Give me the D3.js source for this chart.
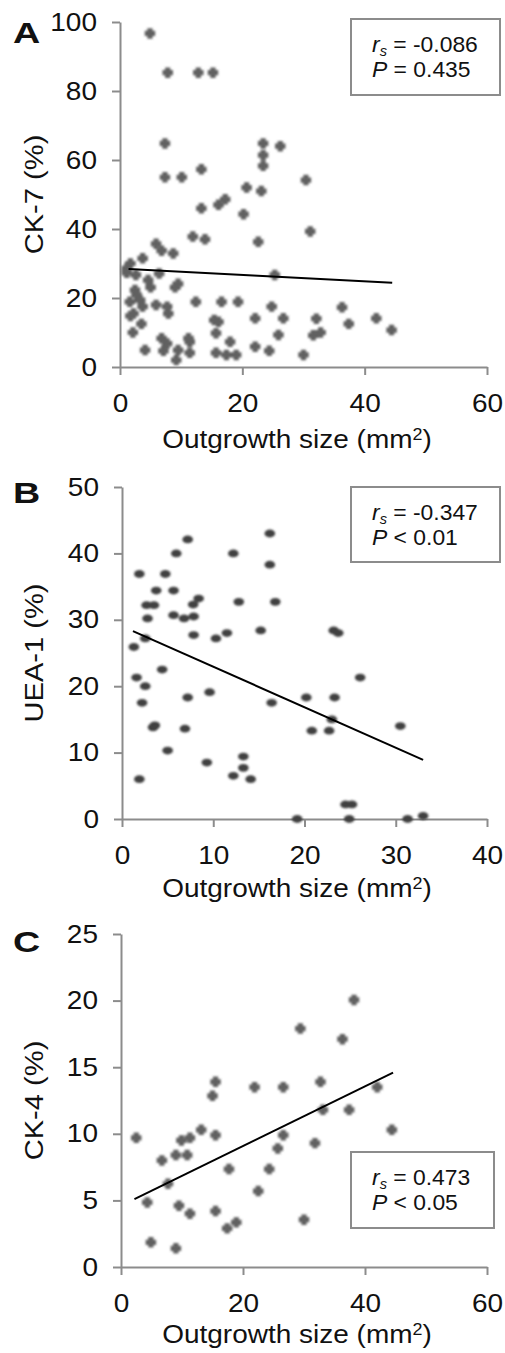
<!DOCTYPE html>
<html>
<head>
<meta charset="utf-8">
<script src="https://cdn.jsdelivr.net/npm/d3@7/dist/d3.min.js"></script>
<style>
  html, body { margin: 0; padding: 0; background: #fff; }
  svg text { font-family: "Liberation Sans", Arial, Helvetica, sans-serif; fill: #111; }
</style>
</head>
<body>
<svg id="chart" width="505" height="1353"></svg>
<script>
// ---------- Panel A: CK-7 ----------
const ck7X = [4.9,7.8,12.8,15.2,7.35,23.4,26.2,23.4,23.4,7.35,10.1,13.3,30.4,20.7,23.1,17.2,16.1,13.3,20.2,11.9,13.9,22.6,31.1,5.9,6.8,8.7,3.7,1.7,1.1,1.1,2.6,6.4,4.6,5.0,9.5,9.0,25.3,2.45,2.7,1.6,3.3,3.7,5.9,7.7,7.9,2.2,1.7,12.4,16.6,19.3,24.8,15.4,16.1,22.1,26.7,3.5,15.7,25.9,2.1,6.8,7.7,11.2,11.4,18.0,4.1,7.1,9.5,11.4,15.7,17.4,19.0,22.1,24.4,30.0,9.2,36.3,37.4,41.9,44.4,32.1,31.6,32.8];
const ck7Y = [96.7,85.3,85.3,85.3,64.8,64.8,64.0,61.4,58.3,55.0,55.0,57.3,54.2,52.0,51.0,48.6,47.0,46.0,44.3,37.8,37.0,36.3,39.3,35.7,33.7,32.9,31.5,30.0,28.6,27.3,26.7,27.1,25.2,23.1,24.1,23.1,26.7,22.3,20.9,18.9,19.4,17.5,18.0,17.5,15.5,15.5,14.8,18.9,18.9,18.9,17.5,13.6,13.1,14.1,14.1,12.5,9.8,9.3,10.0,8.3,6.8,8.3,7.3,7.3,4.9,4.7,4.9,4.1,4.1,3.5,3.5,5.9,4.7,3.5,2.0,17.3,12.5,14.1,10.7,14.0,9.2,10.0];
const ck7FitX = [1.4, 44.5];
const ck7FitY = [28.4, 24.4];
const ck7XTicks = [0, 20, 40, 60];
const ck7YTicks = [0, 20, 40, 60, 80, 100];

// ---------- Panel B: UEA-1 ----------
const ueaX = [7.2,16.2,5.95,12.2,16.2,1.9,4.75,3.75,5.65,2.7,3.5,8.4,7.8,12.8,16.8,2.8,5.65,6.8,7.85,7.85,10.3,11.5,15.2,2.55,1.3,23.2,23.7,26.1,20.2,23.3,23.0,20.8,22.7,30.5,24.5,25.2,19.2,24.9,31.3,33.0,4.4,1.6,2.55,2.2,7.2,9.6,16.4,3.4,3.6,6.9,5.0,9.3,13.3,13.3,12.2,14.1,1.9];
const ueaY = [42.1,43.0,40.0,40.0,38.3,36.9,36.9,34.4,34.4,32.2,32.2,33.2,32.3,32.7,32.7,30.2,30.7,30.2,30.5,27.7,27.2,28.0,28.4,27.2,25.9,28.4,28.0,21.3,18.3,18.3,15.0,13.3,13.3,14.0,2.2,2.2,0.0,0.0,0.0,0.45,22.5,21.3,20.0,17.5,18.3,19.1,17.5,13.8,14.1,13.6,10.3,8.5,9.4,7.7,6.5,6.0,6.0];
const ueaFitX = [1.2, 33.0];
const ueaFitY = [28.3, 8.9];
const ueaXTicks = [0, 10, 20, 30, 40];
const ueaYTicks = [0, 10, 20, 30, 40, 50];

// ---------- Panel C: CK-4 ----------
const ck4X = [38.2,29.4,36.3,15.5,15.0,21.9,26.6,32.7,42.0,33.1,37.4,44.4,13.15,2.5,9.9,11.3,15.5,26.6,31.8,25.7,6.7,9.0,10.85,17.7,24.3,7.7,22.5,4.3,9.5,11.3,15.5,18.9,17.4,30.0,4.9,9.0];
const ck4Y = [20.05,17.9,17.1,13.9,12.85,13.5,13.5,13.9,13.5,11.8,11.8,10.3,10.3,9.7,9.5,9.7,9.9,9.9,9.3,8.9,8.0,8.4,8.4,7.35,7.35,6.25,5.7,4.85,4.6,4.0,4.2,3.35,2.9,3.55,1.85,1.4];
const ck4FitX = [2.2, 44.6];
const ck4FitY = [5.1, 14.6];
const ck4XTicks = [0, 20, 40, 60];
const ck4YTicks = [0, 5, 10, 15, 20, 25];

const svg = d3.select("#chart");
const defs = svg.append("defs");
defs.append("filter").attr("id", "soft").attr("x", "-50%").attr("y", "-50%").attr("width", "200%").attr("height", "200%")
  .append("feGaussianBlur").attr("stdDeviation", 0.8);

const axisColor = "#8c8c8c";
const SX = 1.12; // horizontal stretch of the lettering

// chunky plus-shaped marker
const chunkyCross = {
  draw(ctx, size) {
    const w = Math.sqrt(size) / 2, t = w * 0.5;
    ctx.moveTo(-t, -w); ctx.lineTo(t, -w); ctx.lineTo(t, -t); ctx.lineTo(w, -t);
    ctx.lineTo(w, t); ctx.lineTo(t, t); ctx.lineTo(t, w); ctx.lineTo(-t, w);
    ctx.lineTo(-t, t); ctx.lineTo(-w, t); ctx.lineTo(-w, -t); ctx.lineTo(-t, -t);
    ctx.closePath();
  }
};

function stretchedText(parent, x, y, size, anchor) {
  return parent.append("text")
    .attr("transform", `translate(${x},${y}) scale(${SX},1)`)
    .attr("text-anchor", anchor || "start").style("font-size", size + "px");
}

function panel(cfg) {
  const g = svg.append("g");
  const x = d3.scaleLinear().domain(cfg.xDomain).range([cfg.left, cfg.right]);
  const y = d3.scaleLinear().domain(cfg.yDomain).range([cfg.bottom, cfg.top]);

  // axes
  const xa = g.append("g").attr("transform", `translate(0,${cfg.bottom})`)
    .call(d3.axisBottom(x).tickValues(cfg.xTicks).tickSize(8).tickPadding(19).tickSizeOuter(0));
  const ya = g.append("g").attr("transform", `translate(${cfg.left},0)`)
    .call(d3.axisLeft(y).tickValues(cfg.yTicks).tickSize(8).tickPadding(15).tickSizeOuter(0));
  [xa, ya].forEach(a => {
    a.select(".domain").attr("stroke", axisColor).attr("stroke-width", 2);
    a.selectAll(".tick line").attr("stroke", axisColor).attr("stroke-width", 2);
    a.selectAll(".tick text").style("font-size", "25px").attr("fill", "#111")
      .style("font-family", '"Liberation Sans", Arial, sans-serif')
      .attr("transform", `scale(${SX},1)`);
  });
  ya.selectAll(".tick text").attr("x", -23 / SX);

  // points
  const pts = d3.range(cfg.xs.length).map(i => [cfg.xs[i], cfg.ys[i]]);
  if (cfg.shape === "ellipse") {
    g.append("g").attr("filter", "url(#soft)").selectAll("ellipse").data(pts).join("ellipse")
      .attr("cx", d => x(d[0])).attr("cy", d => y(d[1]))
      .attr("rx", 5.3).attr("ry", 3.9).attr("fill", "#3f3f3f");
  } else {
    const sym = d3.symbol().type(chunkyCross).size(110);
    g.append("g").attr("filter", "url(#soft)").selectAll("path").data(pts).join("path")
      .attr("transform", d => `translate(${x(d[0])},${y(d[1])})`)
      .attr("d", sym).attr("fill", "#606060");
  }

  // trend line
  const fit = cfg.fitX.map((v, i) => [v, cfg.fitY[i]]);
  g.append("path").datum(fit)
    .attr("d", d3.line().x(d => x(d[0])).y(d => y(d[1])))
    .attr("stroke", "#000").attr("stroke-width", 2).attr("fill", "none");

  // panel letter
  g.append("text").attr("transform", `translate(13,${cfg.letterY}) scale(1.3,1)`).text(cfg.letter)
    .style("font-size", "29px").style("font-weight", "bold");

  // y title
  g.append("text")
    .attr("transform", `translate(43,${(cfg.top + cfg.bottom) / 2}) rotate(-90) scale(1.12,1)`)
    .attr("text-anchor", "middle").style("font-size", "26px").text(cfg.yTitle);

  // x title
  const xt = stretchedText(g, cfg.xTitleX, cfg.xTitleY, 25, "middle");
  xt.append("tspan").text("Outgrowth size (mm");
  xt.append("tspan").attr("baseline-shift", "super").style("font-size", "16px").text("2");
  xt.append("tspan").text(")");

  // stats box
  const b = cfg.box;
  g.append("rect").attr("x", b.x).attr("y", b.y).attr("width", b.w).attr("height", b.h)
    .attr("fill", "#fff").attr("stroke", axisColor).attr("stroke-width", 2);
  const t1 = g.append("text").attr("transform", `translate(${b.x + 21},${b.y + 33}) scale(1.04,1)`).style("font-size", "22px");
  t1.append("tspan").style("font-style", "italic").text("r");
  t1.append("tspan").attr("dy", 4).style("font-style", "italic").style("font-size", "14px").text("s");
  t1.append("tspan").attr("dy", -4).text(" = " + cfg.rs);
  const t2 = g.append("text").attr("transform", `translate(${b.x + 21},${b.y + 58}) scale(1.04,1)`).style("font-size", "22px");
  t2.append("tspan").style("font-style", "italic").text("P");
  t2.append("tspan").text(" " + cfg.p);
}

panel({
  left: 120, right: 487, top: 22, bottom: 367,
  xDomain: [0, 60], yDomain: [0, 100], xTicks: ck7XTicks, yTicks: ck7YTicks,
  xs: ck7X, ys: ck7Y, fitX: ck7FitX, fitY: ck7FitY, shape: "cross",
  letter: "A", letterY: 43, yTitle: "CK-7 (%)", xTitleX: 297, xTitleY: 448,
  box: { x: 351, y: 19, w: 149, h: 76 }, rs: "-0.086", p: "= 0.435"
});
panel({
  left: 122, right: 487, top: 487, bottom: 819,
  xDomain: [0, 40], yDomain: [0, 50], xTicks: ueaXTicks, yTicks: ueaYTicks,
  xs: ueaX, ys: ueaY, fitX: ueaFitX, fitY: ueaFitY, shape: "ellipse",
  letter: "B", letterY: 503, yTitle: "UEA-1 (%)", xTitleX: 297, xTitleY: 897,
  box: { x: 351, y: 487, w: 149, h: 75 }, rs: "-0.347", p: "< 0.01"
});
panel({
  left: 121, right: 487, top: 934, bottom: 1267,
  xDomain: [0, 60], yDomain: [0, 25], xTicks: ck4XTicks, yTicks: ck4YTicks,
  xs: ck4X, ys: ck4Y, fitX: ck4FitX, fitY: ck4FitY, shape: "cross",
  letter: "C", letterY: 952, yTitle: "CK-4 (%)", xTitleX: 297, xTitleY: 1343,
  box: { x: 351, y: 1152, w: 143, h: 76 }, rs: "0.473", p: "< 0.05"
});
</script>
</body>
</html>
